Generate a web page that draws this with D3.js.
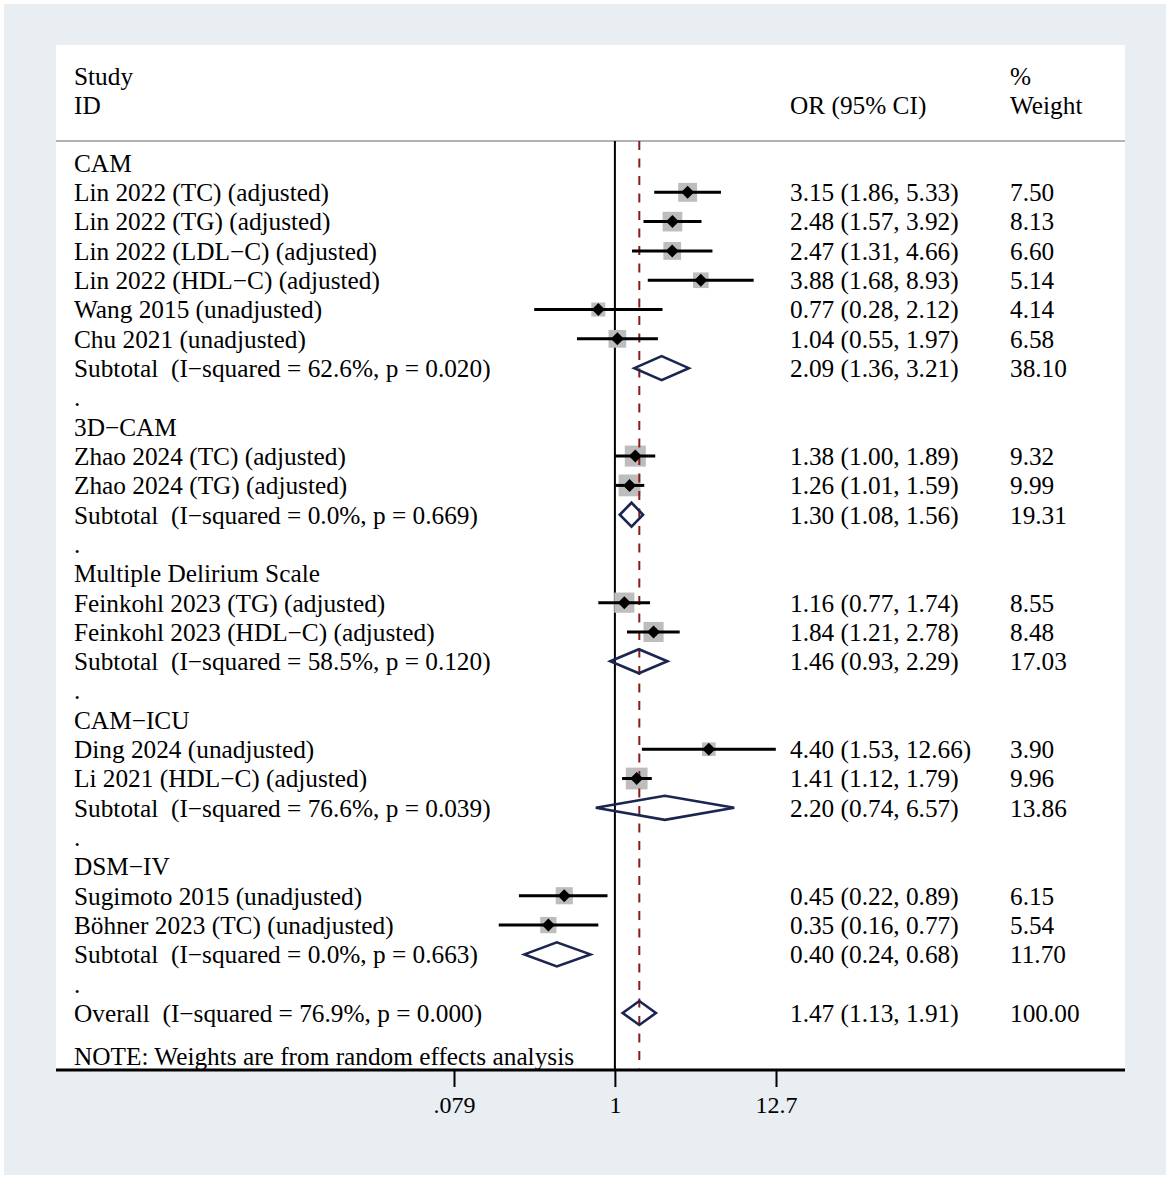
<!DOCTYPE html>
<html>
<head>
<meta charset="utf-8">
<script src="https://cdn.jsdelivr.net/npm/d3@7"></script>
<style>
  body { margin: 0; background: #fff; }
  svg text { font-family: "Liberation Serif", "Times New Roman", serif; font-size: 25.3px; fill: #000; white-space: pre; }
</style>
</head>
<body>
<svg id="chart"></svg>
<script>
// groups and studies, in display order
const groupNames = ["CAM", "3D\u2212CAM", "Multiple Delirium Scale", "CAM\u2212ICU", "DSM\u2212IV"];

const studyLabels = [
  "Lin 2022 (TC) (adjusted)", "Lin 2022 (TG) (adjusted)", "Lin 2022 (LDL\u2212C) (adjusted)",
  "Lin 2022 (HDL\u2212C) (adjusted)", "Wang 2015 (unadjusted)", "Chu 2021 (unadjusted)",
  "Zhao 2024 (TC) (adjusted)", "Zhao 2024 (TG) (adjusted)",
  "Feinkohl 2023 (TG) (adjusted)", "Feinkohl 2023 (HDL\u2212C) (adjusted)",
  "Ding 2024 (unadjusted)", "Li 2021 (HDL\u2212C) (adjusted)",
  "Sugimoto 2015 (unadjusted)", "B\u00f6hner 2023 (TC) (unadjusted)"
];
const studyGroup = [0, 0, 0, 0, 0, 0, 1, 1, 2, 2, 3, 3, 4, 4];
const studyOR = [3.15, 2.48, 2.47, 3.88, 0.77, 1.04, 1.38, 1.26, 1.16, 1.84, 4.40, 1.41, 0.45, 0.35];
const studyLo = [1.86, 1.57, 1.31, 1.68, 0.28, 0.55, 1.00, 1.01, 0.77, 1.21, 1.53, 1.12, 0.22, 0.16];
const studyHi = [5.33, 3.92, 4.66, 8.93, 2.12, 1.97, 1.89, 1.59, 1.74, 2.78, 12.66, 1.79, 0.89, 0.77];
const studyWeight = [7.50, 8.13, 6.60, 5.14, 4.14, 6.58, 9.32, 9.99, 8.55, 8.48, 3.90, 9.96, 6.15, 5.54];

const subLabels = [
  "Subtotal  (I\u2212squared = 62.6%, p = 0.020)",
  "Subtotal  (I\u2212squared = 0.0%, p = 0.669)",
  "Subtotal  (I\u2212squared = 58.5%, p = 0.120)",
  "Subtotal  (I\u2212squared = 76.6%, p = 0.039)",
  "Subtotal  (I\u2212squared = 0.0%, p = 0.663)"
];
const subOR = [2.09, 1.30, 1.46, 2.20, 0.40];
const subLo = [1.36, 1.08, 0.93, 0.74, 0.24];
const subHi = [3.21, 1.56, 2.29, 6.57, 0.68];
const subWeight = [38.10, 19.31, 17.03, 13.86, 11.70];

const overallLabel = "Overall  (I\u2212squared = 76.9%, p = 0.000)";
const overallOR = 1.47, overallLo = 1.13, overallHi = 1.91, overallWeight = 100.00;

const tickValues = [0.079, 1, 12.7];
const tickLabels = [".079", "1", "12.7"];

const W = 1169, H = 1179;
const svg = d3.select('#chart').attr('width', W).attr('height', H);

// background + white plot panel
svg.append('rect').attr('x', 4).attr('y', 4).attr('width', 1162).attr('height', 1171).attr('fill', '#e8eef2');
const panel = { left: 56, right: 1125, top: 45, bottom: 1070 };
svg.append('rect').attr('x', panel.left).attr('y', panel.top)
  .attr('width', panel.right - panel.left).attr('height', panel.bottom - panel.top).attr('fill', '#fff');

// build the row list
let rows = [];
groupNames.forEach((g, gi) => {
  rows.push({ type: 'group', label: g });
  studyLabels.forEach((s, i) => {
    if (studyGroup[i] === gi) rows.push({ type: 'study', label: s, or: studyOR[i], lo: studyLo[i], hi: studyHi[i], w: studyWeight[i] });
  });
  rows.push({ type: 'sub', label: subLabels[gi], or: subOR[gi], lo: subLo[gi], hi: subHi[gi], w: subWeight[gi] });
  rows.push({ type: 'dot', label: '.' });
});
rows.push({ type: 'sub', label: overallLabel, or: overallOR, lo: overallLo, hi: overallHi, w: overallWeight });
rows.forEach((d, i) => d.i = i);

const x = d3.scaleLog().domain([0.079, 12.7]).range([454, 776]);
const y = d3.scaleLinear().domain([0, rows.length - 1]).range([163, 1013]);

const col = { label: 74, ci: 790, wt: 1010 };

// header
svg.append('text').attr('x', col.label).attr('y', 76).attr('dy', '0.35em').text('Study');
svg.append('text').attr('x', col.label).attr('y', 105).attr('dy', '0.35em').text('ID');
svg.append('text').attr('x', col.ci).attr('y', 105).attr('dy', '0.35em').text('OR (95% CI)');
svg.append('text').attr('x', col.wt).attr('y', 76).attr('dy', '0.35em').text('%');
svg.append('text').attr('x', col.wt).attr('y', 105).attr('dy', '0.35em').text('Weight');
svg.append('line').attr('x1', panel.left).attr('x2', panel.right).attr('y1', 141).attr('y2', 141)
  .attr('stroke', '#9a9a9a').attr('stroke-width', 1.5);

// reference lines
svg.append('line').attr('x1', x(1)).attr('x2', x(1)).attr('y1', 141).attr('y2', panel.bottom)
  .attr('stroke', '#000').attr('stroke-width', 2);

// study boxes
const studies = rows.filter(d => d.type === 'study');
svg.selectAll('rect.box').data(studies).join('rect')
  .attr('class', 'box')
  .attr('x', d => x(d.or) - 3.45 * Math.sqrt(d.w))
  .attr('y', d => y(d.i) - 3.45 * Math.sqrt(d.w))
  .attr('width', d => 6.9 * Math.sqrt(d.w))
  .attr('height', d => 6.9 * Math.sqrt(d.w))
  .attr('fill', '#bdbdbd');

svg.append('line').attr('x1', x(overallOR)).attr('x2', x(overallOR)).attr('y1', 141).attr('y2', panel.bottom)
  .attr('stroke', '#8b1a1a').attr('stroke-width', 2).attr('stroke-dasharray', '9,8.5');

svg.selectAll('line.ci').data(studies).join('line')
  .attr('class', 'ci')
  .attr('x1', d => x(d.lo)).attr('x2', d => x(d.hi))
  .attr('y1', d => y(d.i)).attr('y2', d => y(d.i))
  .attr('stroke', '#000').attr('stroke-width', 3);

svg.selectAll('path.pt').data(studies).join('path')
  .attr('class', 'pt')
  .attr('d', d => {
    const cx = x(d.or), cy = y(d.i), r = 6.5;
    return `M${cx - r},${cy}L${cx},${cy - r}L${cx + r},${cy}L${cx},${cy + r}Z`;
  })
  .attr('fill', '#000');

// pooled diamonds
svg.selectAll('path.dia').data(rows.filter(d => d.type === 'sub')).join('path')
  .attr('class', 'dia')
  .attr('d', d => {
    const cy = y(d.i), h = 12;
    return `M${x(d.lo)},${cy}L${x(d.or)},${cy - h}L${x(d.hi)},${cy}L${x(d.or)},${cy + h}Z`;
  })
  .attr('fill', 'none').attr('stroke', '#1a2550').attr('stroke-width', 2.6);

// text columns
svg.selectAll('text.lab').data(rows).join('text')
  .attr('class', 'lab')
  .attr('x', col.label).attr('y', d => y(d.i)).attr('dy', '0.35em')
  .text(d => d.label);

const withCI = rows.filter(d => d.or !== undefined);
svg.selectAll('text.ci').data(withCI).join('text')
  .attr('class', 'ci')
  .attr('x', col.ci).attr('y', d => y(d.i)).attr('dy', '0.35em')
  .text(d => `${d.or.toFixed(2)} (${d.lo.toFixed(2)}, ${d.hi.toFixed(2)})`);

svg.selectAll('text.wt').data(withCI).join('text')
  .attr('class', 'wt')
  .attr('x', col.wt).attr('y', d => y(d.i)).attr('dy', '0.35em')
  .text(d => d.w.toFixed(2));

svg.append('text').attr('x', col.label).attr('y', 1056).attr('dy', '0.35em')
  .text('NOTE: Weights are from random effects analysis');

// x axis
const xAxis = d3.axisBottom(x)
  .tickValues(tickValues)
  .tickSize(17)
  .tickPadding(9)
  .tickFormat((d, i) => tickLabels[i]);

const axisG = svg.append('g').attr('transform', `translate(0,${panel.bottom})`).call(xAxis);
axisG.select('.domain').remove();
axisG.selectAll('.tick line').attr('stroke', '#000').attr('stroke-width', 2);
axisG.selectAll('.tick text')
  .style('font-family', '"Liberation Serif", "Times New Roman", serif')
  .style('font-size', '24px').attr('fill', '#000');

svg.append('line').attr('x1', panel.left).attr('x2', panel.right).attr('y1', panel.bottom).attr('y2', panel.bottom)
  .attr('stroke', '#000').attr('stroke-width', 3);
</script>
</body>
</html>
